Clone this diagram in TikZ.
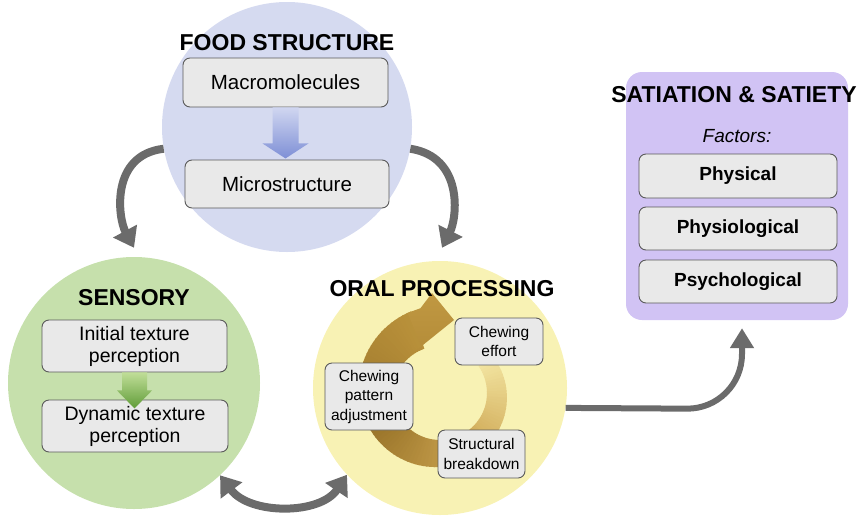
\documentclass[tikz,border=0pt]{standalone}
\usepackage{fontspec}
\setmainfont{Liberation Sans}
\usetikzlibrary{arrows.meta,calc}

\definecolor{foodblue}{RGB}{213,218,240}
\definecolor{sensgreen}{RGB}{198,224,172}
\definecolor{oralyellow}{RGB}{248,242,180}
\definecolor{satpurple}{RGB}{209,195,244}
\definecolor{boxfill}{RGB}{233,233,233}
\definecolor{boxline}{RGB}{90,90,90}
\definecolor{flowgray}{RGB}{107,107,107}
\definecolor{goldpale}{RGB}{242,228,160}
\definecolor{goldmid}{RGB}{206,166,82}
\definecolor{golddark}{RGB}{154,117,42}
\definecolor{goldhead}{RGB}{184,144,58}

\begin{document}
\begin{tikzpicture}[x=1pt,y=-1pt,
  zone/.style={circle, inner sep=0pt, minimum size=#1},
  zonettl/.style={font=\fontsize{23}{26}\selectfont\bfseries, anchor=base, inner sep=0pt},
  itembox/.style={draw=boxline, line width=0.9pt, fill=boxfill, rounded corners=7pt,
                  inner sep=0pt, align=center},
  flow/.style={draw=flowgray, line width=8pt, -{Triangle[length=19pt,width=26pt]}},
]
\useasboundingbox (0,0) rectangle (867,517);

% main zones
\node[zone=250pt, fill=foodblue] (food) at (287,127) {};
\node[zone=252pt, fill=sensgreen] (sens) at (134,383) {};
\node[zone=254pt, fill=oralyellow] (oral) at (440,388) {};
\node[fill=satpurple, rounded corners=16pt, minimum width=222pt, minimum height=248pt,
      inner sep=0pt] (sat) at (737,196) {};

% connectors between zones
\draw[flow] (food.190) .. controls (110,155) and (118,218) .. ([yshift=9pt]sens.north);
\draw[flow] (food.350) .. controls (464,157) and (457,218) .. ([shift={(2,-13)}]oral.north);
\draw[flow, {Triangle[length=19pt,width=26pt]}-{Triangle[length=19pt,width=26pt]}]
  (sens.-47) .. controls (250,515) and (320,515) .. (oral.223);
\draw[flow, line width=6pt, -{Triangle[length=20pt,width=23pt]}, rounded corners=55pt]
  (oral.-9) -- (742,409) -- ([shift={(5,8)}]sat.south);

% chewing cycle: a tapering ring, shaded along its length
\coordinate (hub) at (440,393);
\foreach \a in {-35,-32,...,249} {
  \pgfmathsetmacro\b{\a+3.6}
  \pgfmathsetmacro\ra{64+(\a+35)*23/290}
  \pgfmathsetmacro\rb{64+(\b+35)*23/290}
  \ifnum\a<60
    \pgfmathtruncatemacro\p{100*(\a+35)/95}\colorlet{ringc}{goldmid!\p!goldpale}
  \else\ifnum\a<150
    \pgfmathtruncatemacro\p{100*(\a-60)/90}\colorlet{ringc}{golddark!\p!goldmid}
  \else
    \pgfmathtruncatemacro\p{min(100,100*(\a-150)/95)}\colorlet{ringc}{goldhead!\p!golddark}
  \fi\fi
  \fill[ringc] ($(hub)+(\a:47)$) -- ($(hub)+(\a:\ra)$) -- ($(hub)+(\b:\rb)$) -- ($(hub)+(\b:47)$) -- cycle;
}
% arrow head of the ring
\shade[top color={rgb,255:red,192;green,152;blue,66}, bottom color={rgb,255:red,180;green,140;blue,56}]
  ($(hub)+(248:86.4)$) -- ($(hub)+(257:87)$) -- (432,293) -- (454,320) -- (413,353)
  -- ($(hub)+(248:47)$) -- cycle;

% item boxes
\node[itembox, minimum width=205pt, minimum height=49pt, font=\fontsize{20.5}{24}\selectfont]
  (macro) at (285.5,82.5) {Macromolecules};
\node[itembox, minimum width=204pt, minimum height=48pt, font=\fontsize{20.5}{24}\selectfont]
  (micro) at (287,184) {Microstructure};

\node[itembox, minimum width=185pt, minimum height=52pt, font=\fontsize{19.5}{22}\selectfont]
  (init) at (134.5,346) {Initial texture\\perception};
\node[itembox, minimum width=186pt, minimum height=52pt, font=\fontsize{19.5}{22}\selectfont]
  (dyn) at (135,426) {Dynamic texture\\perception};

\node[itembox, minimum width=88pt, minimum height=47pt, font=\fontsize{15.5}{19.5}\selectfont]
  (effort) at (499,341.5) {Chewing\\effort};
\node[itembox, minimum width=88pt, minimum height=67pt, font=\fontsize{15.5}{19.5}\selectfont]
  (pattern) at (369,396.5) {Chewing\\pattern\\adjustment};
\node[itembox, minimum width=87pt, minimum height=48pt, font=\fontsize{15.5}{19.5}\selectfont]
  (breakdown) at (481.5,454) {Structural\\breakdown};

\node[itembox, minimum width=198pt, minimum height=44pt, font=\fontsize{19}{22}\selectfont\bfseries]
  (phys) at (738,176) {Physical};
\node[itembox, minimum width=198pt, minimum height=43pt, font=\fontsize{19}{22}\selectfont\bfseries]
  (physio) at (738,228.5) {Physiological};
\node[itembox, minimum width=198pt, minimum height=43pt, font=\fontsize{19}{22}\selectfont\bfseries]
  (psych) at (738,281.5) {Psychological};

% arrows inside the zones
\shade[shift={(macro.south)}, top color={rgb,255:red,208;green,214;blue,240},
       bottom color={rgb,255:red,126;green,143;blue,214}]
  (-13,0) -- (13,0) -- (13,36) -- (23,36) -- (0,51) -- (-23,36) -- (-13,36) -- cycle;
\shade[shift={(init.south)}, top color={rgb,255:red,192;green,222;blue,152},
       bottom color={rgb,255:red,96;green,156;blue,56}]
  (-12.5,0) -- (12.5,0) -- (12.5,18) -- (17.5,18) -- (0,36) -- (-17.5,18) -- (-12.5,18) -- cycle;

% zone titles
\node[zonettl] (foodttl) at (287,50) {FOOD STRUCTURE};
\node[zonettl] (sensttl) at (134,305) {SENSORY};
\node[zonettl] (oralttl) at (442,296) {ORAL PROCESSING};
\node[zonettl] (satttl) at (734,102) {SATIATION \& SATIETY};
\node[anchor=base, inner sep=0pt, font=\fontsize{19}{22}\selectfont\itshape] (factors) at (737,142) {Factors:};
\end{tikzpicture}
\end{document}
